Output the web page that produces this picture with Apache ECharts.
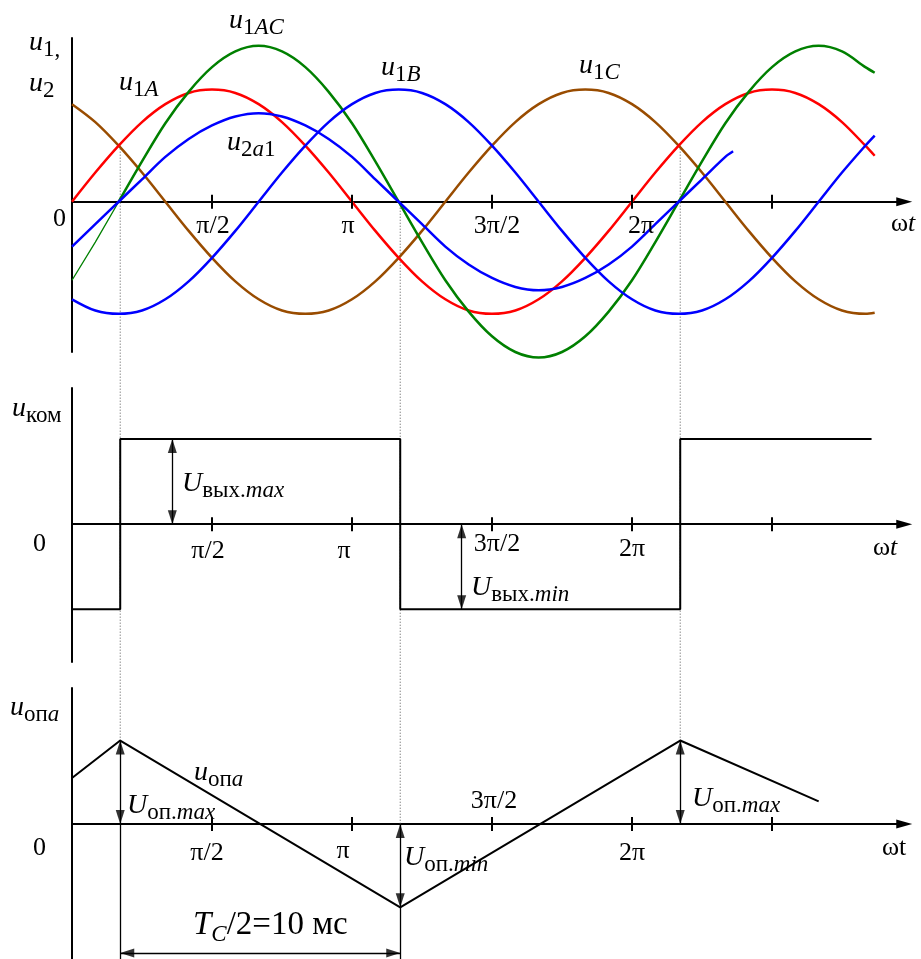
<!DOCTYPE html>
<html><head><meta charset="utf-8">
<script src="https://cdn.jsdelivr.net/npm/echarts@6/dist/echarts.min.js"></script>
<style>html,body{margin:0;padding:0;background:#fff}#c{width:921px;height:959px}</style>
</head><body><div id="c"></div>
<script>
// ---------- DATA (angles in degrees, values in relative units) ----------
const phaseDeg = [0,15,30,45,60,75,90,105,120,135,150,165,180,195,210,225,240,255,270,285,300,315,330,345,360,375,390,405,420,435,450,465,480,495,510,516];
const u1A  = [0,0.26,0.5,0.71,0.87,0.97,1,0.97,0.87,0.71,0.5,0.26,0,-0.26,-0.5,-0.71,-0.87,-0.97,-1,-0.97,-0.87,-0.71,-0.5,-0.26,0,0.26,0.5,0.71,0.87,0.97,1,0.97,0.87,0.71,0.5,0.41];
const u1B  = [-0.87,-0.97,-1,-0.97,-0.87,-0.71,-0.5,-0.26,0,0.26,0.5,0.71,0.87,0.97,1,0.97,0.87,0.71,0.5,0.26,0,-0.26,-0.5,-0.71,-0.87,-0.97,-1,-0.97,-0.87,-0.71,-0.5,-0.26,0,0.26,0.5,0.59];
const u1C  = [0.87,0.71,0.5,0.26,0,-0.26,-0.5,-0.71,-0.87,-0.97,-1,-0.97,-0.87,-0.71,-0.5,-0.26,0,0.26,0.5,0.71,0.87,0.97,1,0.97,0.87,0.71,0.5,0.26,0,-0.26,-0.5,-0.71,-0.87,-0.97,-1,-0.99];
const u1AC = [-0.7,-0.36,0,0.36,0.7,0.98,1.2,1.34,1.39,1.34,1.2,0.98,0.7,0.36,0,-0.36,-0.7,-0.98,-1.2,-1.34,-1.39,-1.34,-1.2,-0.98,-0.7,-0.36,0,0.36,0.7,0.98,1.2,1.34,1.39,1.34,1.2,1.15];
const u2a1Deg = [0,15,30,45,60,75,90,105,120,135,150,165,180,195,210,225,240,255,270,285,300,315,330,345,360,375,390,405,420,425];
const u2a1 = [-0.4,-0.2,0,0.2,0.4,0.56,0.68,0.76,0.79,0.76,0.68,0.56,0.4,0.2,0,-0.2,-0.4,-0.56,-0.68,-0.76,-0.79,-0.76,-0.68,-0.56,-0.4,-0.2,0,0.2,0.4,0.45];

const komDeg = [0,31,31,211,211,391,391,514];
const komVal = [-1,-1,1,1,-1,-1,1,1];

const opaDeg = [0,31,211,391,480];
const opaVal = [0.55,1,-1,1,0.27];

const switchDeg = [31,211,391];
const dottedFrom = [0.5,0,0.5];
const dottedTo = [1,0,1];
const komArrowDeg = [64.5,250.5];
const tcArrowLevel = -1.547;

const tickDeg = [90,180,270,360,450];
const tickLabels = ['π/2','π','3π/2','2π',''];

// ---------- LAYOUT ----------
const SERIF = '"Liberation Serif","DejaVu Serif",serif';
const PX_PER_DEG = 140/90;
const X_MAX = 535;
const LEFT = 72;
const WIDTH = X_MAX*PX_PER_DEG;
const grids = [
  {left:LEFT, width:WIDTH, top:38, height:314, outerBoundsMode:'none'},
  {left:LEFT, width:WIDTH, top:388, height:274, outerBoundsMode:'none'},
  {left:LEFT, width:WIDTH, top:688, height:271, outerBoundsMode:'none'}
];
const yRange = [[-1.34,1.46],[-1.62,1.6],[-1.62,1.63]];
const yPerPx = i => (yRange[i][1]-yRange[i][0])/grids[i].height;
const zip = (xs, ys) => xs.map((x,i)=>[x, ys[i]]);

const C_RED='#ff0000', C_GREEN='#008000', C_BLUE='#0000ff', C_BROWN='#994c00';

function curve(xs, ys, color, width, gi, smooth) {
  return {type:'line', xAxisIndex:gi, yAxisIndex:gi, data:zip(xs,ys), smooth:smooth, showSymbol:false, symbol:'none',
    clip:false, lineStyle:{color:color, width:width}, silent:true, animation:false, z:3};
}
function marks(gi, lines, width) {
  return {type:'line', xAxisIndex:gi, yAxisIndex:gi, data:[], silent:true, animation:false, z:4,
    markLine:{silent:true, animation:false, label:{show:false}, symbol:['none','none'],
      lineStyle:{color:'#000', width:width, type:'solid', opacity:1},
      data: lines.map(l => [{coord:l[0]},{coord:l[1]}])}};
}
// filled arrow heads at both ends of each dimension line
const HEAD = [9,14];
function heads(gi, lines) {
  const pts = [];
  const dxu = (HEAD[1]/2)/PX_PER_DEG, dyu = (HEAD[1]/2)*yPerPx(gi);
  lines.forEach(l => {
    [[l[0], l[1]], [l[1], l[0]]].forEach(pair => {
      const tip = pair[0], other = pair[1];
      let rot, cx = tip[0], cy = tip[1];
      if (tip[0] === other[0]) {
        if (tip[1] > other[1]) { rot = 0; cy -= dyu; } else { rot = 180; cy += dyu; }
      } else {
        if (tip[0] > other[0]) { rot = -90; cx -= dxu; } else { rot = 90; cx += dxu; }
      }
      pts.push({value:[cx, cy], symbolRotate:rot});
    });
  });
  return {type:'scatter', xAxisIndex:gi, yAxisIndex:gi, data:pts, symbol:'triangle', symbolSize:HEAD,
    itemStyle:{color:'#000'}, silent:true, animation:false, clip:false, z:5, emphasis:{disabled:true}};
}
const ticks = gi => tickDeg.map(t => [[t,-7*yPerPx(gi)],[t,7*yPerPx(gi)]]);

const komArrows = [[[komArrowDeg[0],komVal[2]],[komArrowDeg[0],0]], [[komArrowDeg[1],0],[komArrowDeg[1],komVal[4]]]];
const opaArrows = [[[switchDeg[0],opaVal[1]],[switchDeg[0],0]], [[switchDeg[1],0],[switchDeg[1],opaVal[2]]],
                   [[switchDeg[2],opaVal[3]],[switchDeg[2],0]], [[switchDeg[0],tcArrowLevel],[switchDeg[1],tcArrowLevel]]];
const opaExt = [[[switchDeg[0],0],[switchDeg[0],yRange[2][0]]], [[switchDeg[1],opaVal[2]],[switchDeg[1],yRange[2][0]]]];

const series = [
  curve(phaseDeg, u1C, C_BROWN, 2.5, 0, 0.33),
  curve(phaseDeg, u1A, C_RED, 2.5, 0, 0.33),
  curve(phaseDeg.slice(0,3), u1AC.slice(0,3), C_GREEN, 1.3, 0, false),
  curve(phaseDeg.slice(2), u1AC.slice(2), C_GREEN, 2.5, 0, 0.33),
  curve(phaseDeg, u1B, C_BLUE, 2.5, 0, 0.33),
  curve(u2a1Deg, u2a1, C_BLUE, 2.5, 0, 0.33),
  curve(komDeg, komVal, '#000', 2, 1, false),
  curve(opaDeg, opaVal, '#000', 2, 2, false),
  marks(0, ticks(0), 2),
  marks(1, ticks(1), 2),
  marks(2, ticks(2), 2),
  marks(1, komArrows, 1.3),
  marks(2, opaArrows.concat(opaExt), 1.3),
  heads(1, komArrows),
  heads(2, opaArrows)
];

const option = {
  animation:false,
  backgroundColor:'#fff',
  grid: grids,
  xAxis: grids.map((g,i)=>({type:'value', gridIndex:i, min:0, max:X_MAX, interval:90,
    axisLine:{show:true, onZero:true, symbol:['none','triangle'], symbolSize:[9,16], lineStyle:{color:'#000', width:2}},
    axisTick:{show:false}, axisLabel:{show:false}, splitLine:{show:false}})),
  yAxis: grids.map((g,i)=>({type:'value', gridIndex:i, min:yRange[i][0], max:yRange[i][1],
    axisLine:{show:true, onZero:false, lineStyle:{color:'#000', width:2}},
    axisTick:{show:false}, axisLabel:{show:false}, splitLine:{show:false}})),
  series: series
};

const chart = echarts.init(document.getElementById('c'), null, {renderer:'canvas'});
chart.setOption(option);

// ---------- ANNOTATIONS ----------
const RICH = {
  m:  {fontFamily:SERIF, fontStyle:'italic', fontSize:28, lineHeight:28, verticalAlign:'top', fill:'#000'},
  s:  {fontFamily:SERIF, fontSize:23, lineHeight:23, verticalAlign:'top', padding:[10,0,0,0], fill:'#000'},
  si: {fontFamily:SERIF, fontStyle:'italic', fontSize:23, lineHeight:23, verticalAlign:'top', padding:[10,0,0,0], fill:'#000'},
  t:  {fontFamily:SERIF, fontSize:26, lineHeight:26, verticalAlign:'top', fill:'#000'},
  ti: {fontFamily:SERIF, fontStyle:'italic', fontSize:26, lineHeight:26, verticalAlign:'top', fill:'#000'},
  T:  {fontFamily:SERIF, fontStyle:'italic', fontSize:33, lineHeight:33, verticalAlign:'top', fill:'#000'},
  Ts: {fontFamily:SERIF, fontStyle:'italic', fontSize:23, lineHeight:23, verticalAlign:'top', padding:[14,0,0,0], fill:'#000'},
  Tn: {fontFamily:SERIF, fontSize:33, lineHeight:33, verticalAlign:'top', fill:'#000'}
};
const P = (gi, x, y) => chart.convertToPixel({gridIndex:gi}, [x, y]);
const lab = (text, x, y, align) => ({type:'text', x:x, y:y, silent:true, z:100,
  style:{text:text, rich:RICH, align:align||'left', verticalAlign:'top', fill:'#000', fontFamily:SERIF, fontSize:24}});

const g = [];
switchDeg.forEach((d,i) => {
  const a = P(0, d, dottedFrom[i]), b = P(2, d, dottedTo[i]);
  g.push({type:'line', silent:true, z:1, shape:{x1:a[0], y1:a[1], x2:b[0], y2:b[1]},
    style:{stroke:'#555', lineWidth:1, lineDash:[1,2]}});
});

const tickLabelLayout = [
  {dx:[1,-4,5,9,0], top:[213,213,213,213,213]},
  {dx:[-4,-8,5,0,0], top:[538,538,531,536,536]},
  {dx:[-5,-9,2,0,0], top:[840,838,788,840,840]}
];
tickLabelLayout.forEach((L, gi) => {
  tickDeg.forEach((t, k) => {
    if (!tickLabels[k]) return;
    const p = P(gi, t, 0);
    g.push(lab('{t|' + tickLabels[k] + '}', p[0] + L.dx[k], L.top[k], 'center'));
  });
});

[
  ['{m|u}{s|1,}', 29, 28.5],
  ['{m|u}{s|2}', 29, 69.5],
  ['{m|u}{s|1}{si|A}', 119, 68.5],
  ['{m|u}{s|1}{si|AC}', 229, 6.5],
  ['{m|u}{s|2}{si|a}{s|1}', 227, 128.5],
  ['{m|u}{s|1}{si|B}', 381, 53.5],
  ['{m|u}{s|1}{si|C}', 579, 51.5],
  ['{t|0}', 53, 206],
  ['{t|ω}{ti|t}', 891, 211],
  ['{m|u}{s|ком}', 12, 394.5],
  ['{m|U}{s|вых.}{si|max}', 182, 469.5],
  ['{m|U}{s|вых.}{si|min}', 471, 573.5],
  ['{t|0}', 33, 531],
  ['{t|ω}{ti|t}', 873, 535],
  ['{m|u}{s|оп}{si|a}', 10, 693.5],
  ['{m|u}{s|оп}{si|a}', 194, 758.5],
  ['{m|U}{s|оп.}{si|max}', 127, 791.5],
  ['{m|U}{s|оп.}{si|min}', 404, 843.5],
  ['{m|U}{s|оп.}{si|max}', 692, 784.5],
  ['{T|T}{Ts|C}{Tn|/2=10 мс}', 193, 909],
  ['{t|0}', 33, 835],
  ['{t|ωt}', 882, 835]
].forEach(a => g.push(lab(a[0], a[1], a[2])));

chart.setOption({graphic: g});
</script>
</body></html>
